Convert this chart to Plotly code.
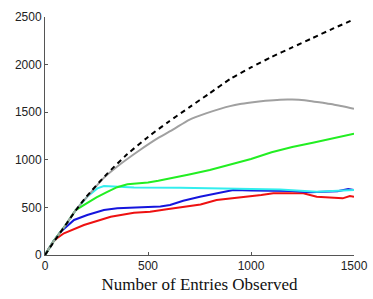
import plotly.graph_objects as go

# Dashed black reference curve
dash_x = [0, 50, 100, 150, 200, 300, 400, 500, 600, 700, 800, 900, 1000, 1100, 1200, 1300, 1400, 1500]
dash_y = [0, 160, 315, 470, 610, 850, 1060, 1240, 1400, 1550, 1700, 1850, 1970, 2080, 2180, 2280, 2380, 2475]

gray_x = [0, 40, 100, 149, 200, 283, 351, 461, 550, 623, 700, 785, 850, 898, 947, 1000, 1070, 1141, 1200, 1260, 1301, 1350, 1400, 1450, 1500]
gray_y = [0, 140, 315, 472, 600, 805, 930, 1103, 1230, 1320, 1420, 1490, 1535, 1564, 1586, 1602, 1620, 1632, 1633, 1625, 1612, 1600, 1580, 1560, 1535]

green_x = [0, 40, 100, 149, 200, 250, 300, 350, 400, 450, 500, 550, 600, 650, 700, 800, 900, 1000, 1100, 1200, 1300, 1400, 1500]
green_y = [0, 140, 315, 472, 540, 605, 660, 712, 742, 752, 762, 780, 800, 822, 845, 893, 950, 1008, 1080, 1135, 1180, 1230, 1275]

cyan_x = [0, 40, 100, 149, 205, 254, 286, 367, 432, 655, 898, 1000, 1141, 1319, 1400, 1500]
cyan_y = [0, 140, 315, 472, 612, 700, 724, 717, 710, 707, 700, 690, 688, 665, 670, 682]

blue_x = [0, 40, 76, 100, 141, 205, 286, 351, 432, 510, 560, 607, 671, 752, 833, 914, 1000, 1141, 1200, 1286, 1367, 1420, 1472, 1500]
blue_y = [0, 140, 245, 290, 368, 420, 472, 490, 500, 502, 510, 525, 570, 612, 648, 682, 678, 675, 672, 658, 665, 670, 693, 682]

red_x = [0, 40, 60, 92, 189, 250, 319, 432, 510, 591, 671, 755, 833, 900, 995, 1050, 1108, 1180, 1254, 1319, 1380, 1416, 1445, 1480, 1500]
red_y = [0, 140, 180, 228, 315, 355, 402, 444, 455, 480, 507, 530, 577, 592, 610, 630, 648, 648, 648, 612, 605, 605, 595, 620, 612]

x_ticks = [0, 500, 1000, 1500]
y_ticks = [0, 500, 1000, 1500, 2000, 2500]

fig = go.Figure()
fig.add_trace(go.Scatter(x=red_x, y=red_y, mode="lines", line=dict(color="#ee1111", width=2)))
fig.add_trace(go.Scatter(x=blue_x, y=blue_y, mode="lines", line=dict(color="#1515dd", width=2)))
fig.add_trace(go.Scatter(x=cyan_x, y=cyan_y, mode="lines", line=dict(color="#33eeee", width=2)))
fig.add_trace(go.Scatter(x=green_x, y=green_y, mode="lines", line=dict(color="#22ee22", width=2)))
fig.add_trace(go.Scatter(x=gray_x, y=gray_y, mode="lines", line=dict(color="#a0a0a0", width=2, shape="spline", smoothing=0.6)))
fig.add_trace(go.Scatter(x=dash_x, y=dash_y, mode="lines", line=dict(color="black", width=2, dash="5px,4px", shape="spline", smoothing=0.6)))

fig.update_layout(
    width=373, height=299,
    margin=dict(l=45, r=19, t=17, b=44),
    plot_bgcolor="white", paper_bgcolor="white",
    showlegend=False,
    font=dict(family="Liberation Sans, Arial, sans-serif", size=12, color="#222"),
)
fig.update_xaxes(
    range=[0, 1500], tickvals=x_ticks, ticks="inside", ticklen=3, tickcolor="#555",
    showline=True, linecolor="#555", linewidth=1, showgrid=False, zeroline=False,
    automargin=False,
    title=dict(text="Number of Entries Observed",
               font=dict(family="Liberation Serif, Times New Roman, serif", size=17, color="#111"),
               standoff=5),
)
fig.update_yaxes(
    range=[0, 2500], tickvals=y_ticks, ticks="inside", ticklen=3, tickcolor="#555",
    showline=True, linecolor="#555", linewidth=1, showgrid=False, zeroline=False,
    automargin=False,
)
# remove the page's default body margin so the 373x299 figure fills the window exactly
fig.write_html("out.html",
               config={"displayModeBar": False},
               post_script="document.body.style.margin='0px';document.body.style.overflow='hidden';")
